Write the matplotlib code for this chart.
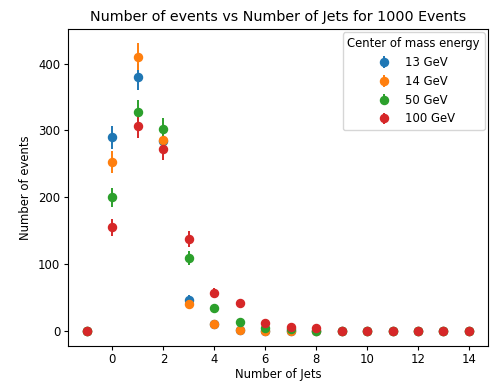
import numpy as np
import matplotlib
matplotlib.use("Agg")
import matplotlib.pyplot as plt

# number of jets per event, counts for each centre of mass energy
n_jets = [-1, 0, 1, 2, 3, 4, 5, 6, 7, 8, 9, 10, 11, 12, 13, 14]
energies = ["13 GeV", "14 GeV", "50 GeV", "100 GeV"]
counts_13 = [0, 290, 380, 285, 47, 10, 2, 1, 1, 0, 0, 0, 0, 0, 0, 0]
counts_14 = [0, 253, 410, 286, 40, 10, 2, 1, 1, 0, 0, 0, 0, 0, 0, 0]
counts_50 = [0, 200, 328, 302, 109, 35, 14, 5, 3, 1, 0, 0, 0, 0, 0, 0]
counts_100 = [0, 155, 307, 272, 138, 57, 42, 12, 6, 4, 0, 0, 0, 0, 0, 0]

fig = plt.figure(figsize=(4.95, 3.81), dpi=100)
ax = fig.add_subplot(111)
fig.subplots_adjust(left=0.137, right=0.986, bottom=0.093, top=0.924)

for lab, c in zip(energies, [counts_13, counts_14, counts_50, counts_100]):
    c = np.array(c)
    # poisson errors
    ax.errorbar(n_jets, c, yerr=np.sqrt(c), fmt="o", markersize=5.8,
                elinewidth=1.4, label=lab)

ax.set_title("Number of events vs Number of Jets for 1000 Events", fontsize=10.3)
ax.set_xlabel("Number of Jets", fontsize=8.4, labelpad=1)
ax.set_ylabel("Number of events", fontsize=8.4)
ax.tick_params(labelsize=8.4, length=3, pad=2.5)
leg = ax.legend(title="Center of mass energy", fontsize=8.4, title_fontsize=8.4,
                loc="upper right", borderaxespad=0.3)

fig.savefig("out.png", dpi=100)
